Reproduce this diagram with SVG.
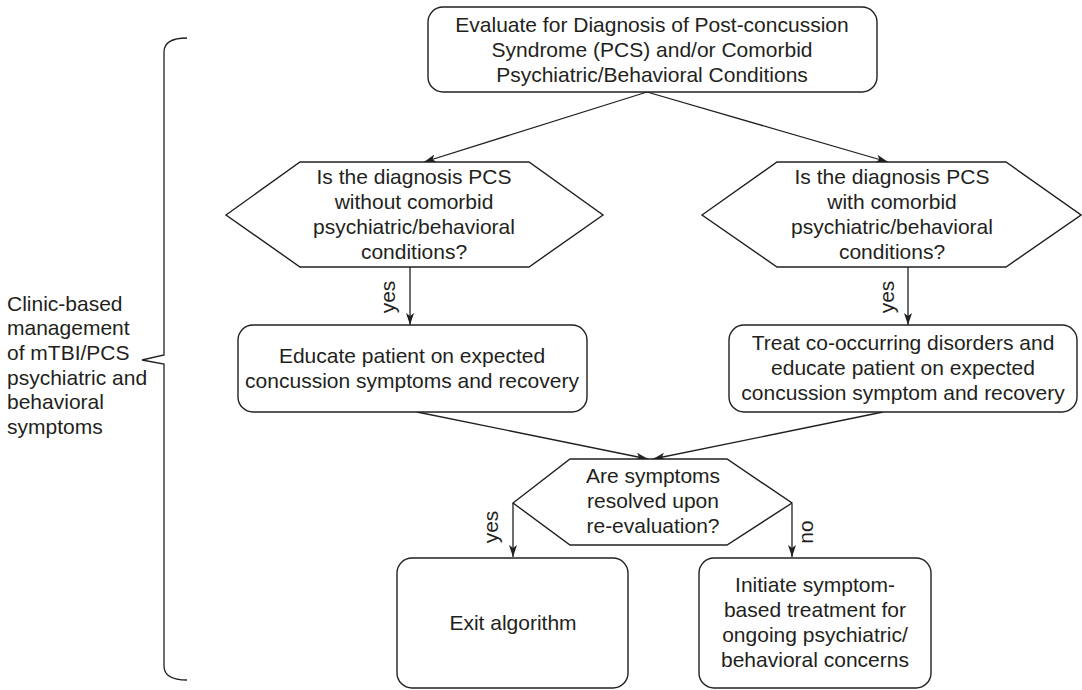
<svg xmlns="http://www.w3.org/2000/svg" width="1082" height="690" viewBox="0 0 1082 690">
<style>
.shape{fill:#fff;stroke:#231f20;stroke-width:1.4}
.conn{fill:none;stroke:#231f20;stroke-width:1.3}
text{font-family:"Liberation Sans",Arial,sans-serif;font-size:21px;fill:#231f20}
.c{text-anchor:middle}
</style>
<defs>
<marker id="arr" markerUnits="userSpaceOnUse" markerWidth="13" markerHeight="9" refX="12" refY="4" orient="auto">
<path d="M0,0 L12,4 L0,8 L3,4 Z" fill="#231f20"/>
</marker>
</defs>
<rect width="1082" height="690" fill="#fff"/>
<g id="bracket">
<path class="conn" d="M187,38 Q164,38 164,52 L164,355 L142,360 L164,364 L164,666 Q164,680 187,680"/>
<text x="7" y="311">Clinic-based</text>
<text x="7" y="335">management</text>
<text x="7" y="360">of mTBI/PCS</text>
<text x="7" y="385">psychiatric and</text>
<text x="7" y="409">behavioral</text>
<text x="7" y="434">symptoms</text>
</g>
<g id="connectors">
<line class="conn" x1="647" y1="92" x2="424" y2="162" marker-end="url(#arr)"/>
<line class="conn" x1="647" y1="92" x2="888" y2="162" marker-end="url(#arr)"/>
<line class="conn" x1="410" y1="267" x2="410" y2="325" marker-end="url(#arr)"/>
<line class="conn" x1="908" y1="267" x2="908" y2="325" marker-end="url(#arr)"/>
<line class="conn" x1="417" y1="412" x2="648" y2="459" marker-end="url(#arr)"/>
<line class="conn" x1="883" y1="412" x2="653" y2="459" marker-end="url(#arr)"/>
<line class="conn" x1="513" y1="503" x2="513" y2="557" marker-end="url(#arr)"/>
<line class="conn" x1="792" y1="504" x2="792" y2="557" marker-end="url(#arr)"/>
<text class="c" transform="translate(395,297) rotate(-90)">yes</text>
<text class="c" transform="translate(894,297) rotate(-90)">yes</text>
<text class="c" transform="translate(498,527) rotate(-90)">yes</text>
<text class="c" transform="translate(813,532) rotate(-90)">no</text>
</g>
<g id="evaluate">
<rect class="shape" x="428" y="7" width="449" height="85" rx="15"/>
<text class="c" x="652" y="32">Evaluate for Diagnosis of Post-concussion</text>
<text class="c" x="652" y="57">Syndrome (PCS) and/or Comorbid</text>
<text class="c" x="652" y="82">Psychiatric/Behavioral Conditions</text>
</g>
<g id="q-without">
<polygon class="shape" points="226,215 300,162 529,162 603,215 529,267 300,267"/>
<text class="c" x="414" y="184">Is the diagnosis PCS</text>
<text class="c" x="414" y="209">without comorbid</text>
<text class="c" x="414" y="234">psychiatric/behavioral</text>
<text class="c" x="414" y="259">conditions?</text>
</g>
<g id="q-with">
<polygon class="shape" points="702,215 777,162 1006,162 1081,215 1006,267 777,267"/>
<text class="c" x="892" y="184">Is the diagnosis PCS</text>
<text class="c" x="892" y="209">with comorbid</text>
<text class="c" x="892" y="234">psychiatric/behavioral</text>
<text class="c" x="892" y="259">conditions?</text>
</g>
<g id="educate">
<rect class="shape" x="238" y="325" width="349" height="87" rx="15"/>
<text class="c" x="412" y="363">Educate patient on expected</text>
<text class="c" x="412" y="388">concussion symptoms and recovery</text>
</g>
<g id="treat">
<rect class="shape" x="729" y="325" width="348" height="87" rx="15"/>
<text class="c" x="903" y="350">Treat co-occurring disorders and</text>
<text class="c" x="903" y="375">educate patient on expected</text>
<text class="c" x="903" y="400">concussion symptom and recovery</text>
</g>
<g id="q-resolved">
<polygon class="shape" points="513,503 570,459 727,459 792,503 727,545 570,545"/>
<text class="c" x="653" y="483">Are symptoms</text>
<text class="c" x="653" y="508">resolved upon</text>
<text class="c" x="653" y="533">re-evaluation?</text>
</g>
<g id="exit">
<rect class="shape" x="397" y="558" width="231" height="130" rx="15"/>
<text class="c" x="513" y="630">Exit algorithm</text>
</g>
<g id="initiate">
<rect class="shape" x="699" y="558" width="232" height="130" rx="15"/>
<text class="c" x="815" y="592">Initiate symptom-</text>
<text class="c" x="815" y="617">based treatment for</text>
<text class="c" x="815" y="642">ongoing psychiatric/</text>
<text class="c" x="815" y="667">behavioral concerns</text>
</g>
</svg>
